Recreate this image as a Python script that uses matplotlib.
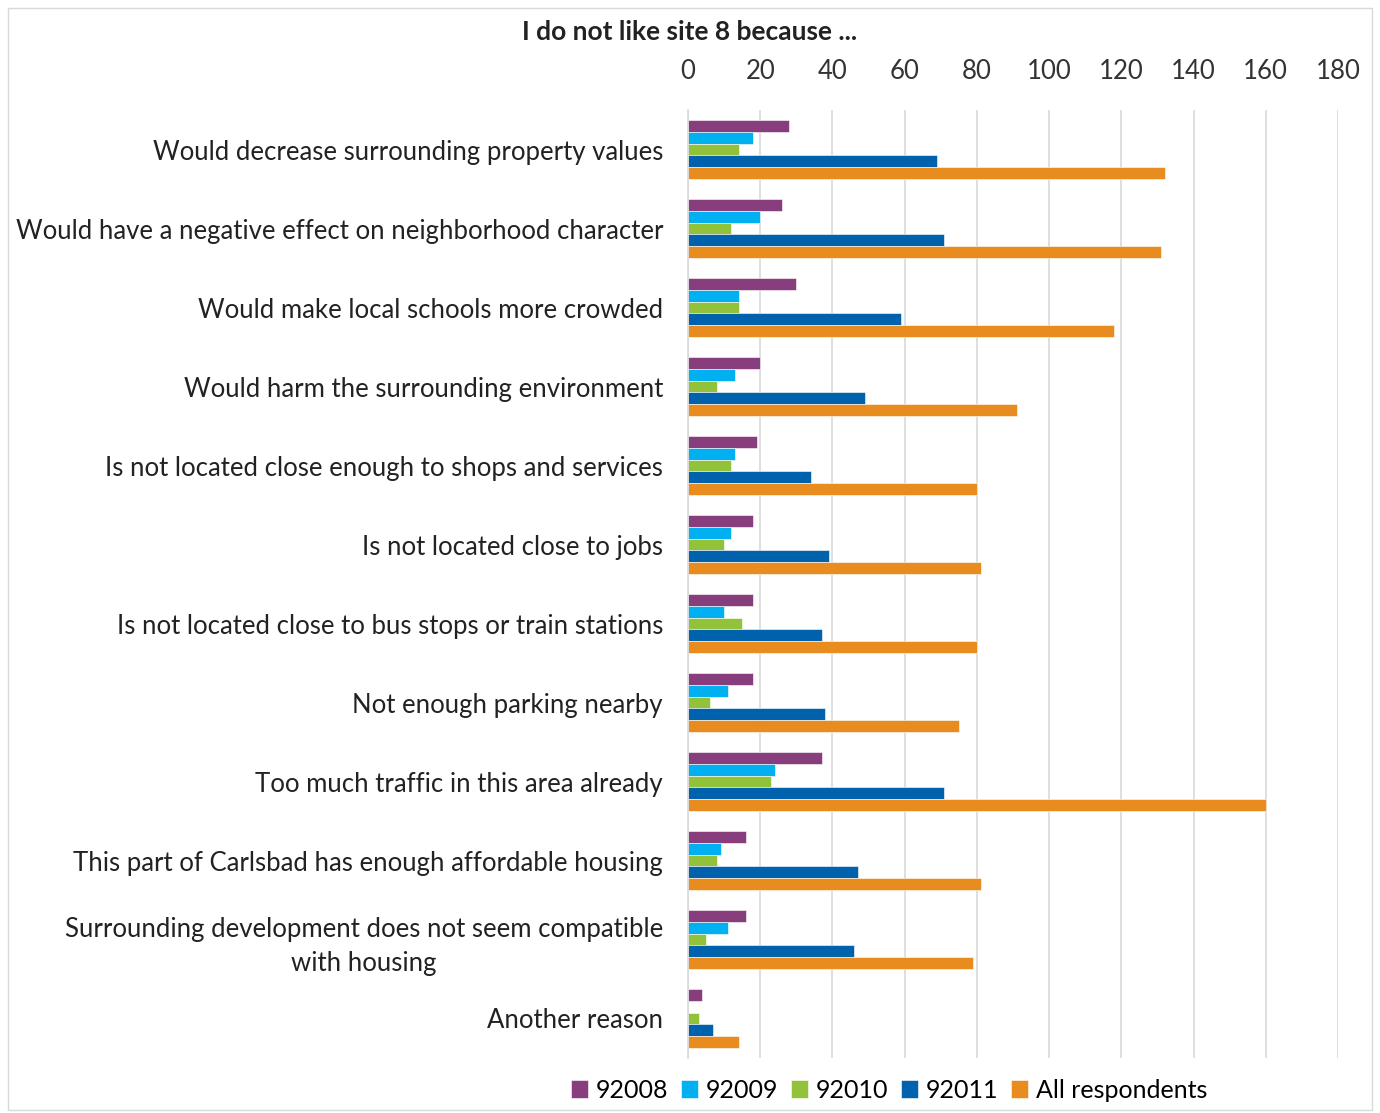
import numpy as np
import matplotlib.pyplot as plt
from matplotlib.patches import Rectangle

plt.rcParams['font.family'] = ['Lato', 'DejaVu Sans']

# Reasons (top to bottom)
reasons = [
    'Would decrease surrounding property values',
    'Would have a negative effect on neighborhood character',
    'Would make local schools more crowded',
    'Would harm the surrounding environment',
    'Is not located close enough to shops and services',
    'Is not located close to jobs',
    'Is not located close to bus stops or train stations',
    'Not enough parking nearby',
    'Too much traffic in this area already',
    'This part of Carlsbad has enough affordable housing',
    'Surrounding development does not seem compatible\nwith housing',
    'Another reason',
]

# Counts per series
z92008 = [28, 26, 30, 20, 19, 18, 18, 18, 37, 16, 16, 4]
z92009 = [18, 20, 14, 13, 13, 12, 10, 11, 24, 9, 11, 0]
z92010 = [14, 12, 14, 8, 12, 10, 15, 6, 23, 8, 5, 3]
z92011 = [69, 71, 59, 49, 34, 39, 37, 38, 71, 47, 46, 7]
all_resp = [132, 131, 118, 91, 80, 81, 80, 75, 160, 81, 79, 14]

series_names = ['92008', '92009', '92010', '92011', 'All respondents']
series_vals = [z92008, z92009, z92010, z92011, all_resp]
colors = ['#883E7C', '#00B0F0', '#92C13A', '#0062AC', '#E88C1F']

fig = plt.figure(figsize=(13.8, 11.13), dpi=100)
ax = fig.add_axes([688 / 1380, 1 - 1058 / 1113, 650 / 1380, (1058 - 110) / 1113])

# frame around the whole chart
fig.patches.append(Rectangle((8 / 1380, 3 / 1113), 1364 / 1380, 1102 / 1113,
                             transform=fig.transFigure, fill=False,
                             edgecolor='#D9D9D9', linewidth=1))

y = np.arange(len(reasons))
bh = 0.15
for i, (name, vals, c) in enumerate(zip(series_names, series_vals, colors)):
    off = (i - 2) * bh
    ax.barh(y + off, vals, height=bh, color=c, label=name,
            edgecolor='white', linewidth=0.4)

ax.set_ylim(len(reasons) - 0.5, -0.5)
ax.set_xlim(0, 180)
ax.set_xticks(np.arange(0, 181, 20))
ax.xaxis.tick_top()
ax.tick_params(axis='x', length=0, labelsize=18.5, colors='#333333', pad=19)
ax.tick_params(axis='y', length=0, labelsize=18.5, colors='#222222', pad=18)
ax.set_yticks(y)
ax.set_yticklabels(reasons, linespacing=1.45)
for lab in ax.get_yticklabels():
    lab.set_horizontalalignment('right')
    lab.set_multialignment('center')

ax.grid(axis='x', color='#D9D9D9', linewidth=1.2)
ax.set_axisbelow(True)
for s in ['top', 'right', 'bottom']:
    ax.spines[s].set_visible(False)
ax.spines['left'].set_color('#D9D9D9')
ax.spines['left'].set_linewidth(1.2)

fig.text(690 / 1380, 1 - 32 / 1113, 'I do not like site 8 because ...',
         ha='center', va='center', fontsize=19, fontweight='bold', color='#222222')

leg = fig.legend(loc='center', bbox_to_anchor=(889 / 1380, 1 - 1090 / 1113),
                 ncol=5, frameon=False, fontsize=18, handlelength=0.7,
                 handleheight=0.7, handletextpad=0.3, columnspacing=0.5)

fig.savefig('out.png', dpi=100)
